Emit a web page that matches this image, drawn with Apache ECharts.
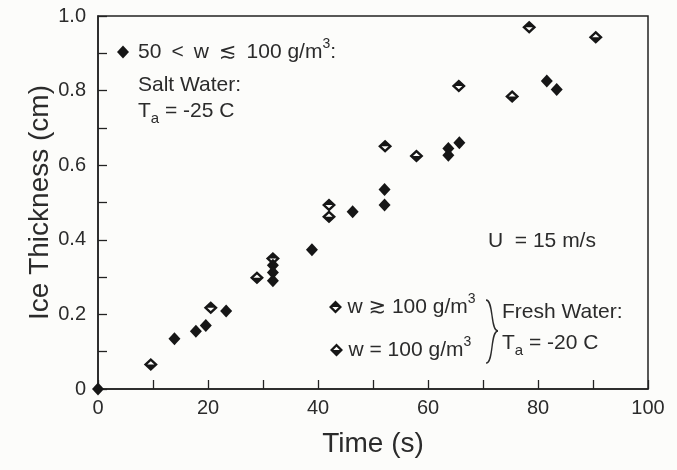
<!DOCTYPE html>
<html>
<head>
<meta charset="utf-8">
<script src="https://cdn.jsdelivr.net/npm/echarts@6/dist/echarts.min.js"></script>
<style>
html,body{margin:0;padding:0;background:#fcfcfa}
#chart{width:677px;height:470px}
</style>
</head>
<body>
<div id="chart"></div>
<script>
// tick labels
const xTickValues = [0, 20, 40, 60, 80, 100];
const xTickLabels = ['0', '20', '40', '60', '80', '100'];
const yTickValues = [0, 0.2, 0.4, 0.6, 0.8, 1.0];
const yTickLabels = ['0', '0.2', '0.4', '0.6', '0.8', '1.0'];

// salt water, 50 < w <= 100 g/m3 (filled diamonds)
const saltTime  = [0, 13.9, 17.8, 19.6, 23.3, 31.8, 31.8, 31.8, 38.9, 46.3, 52.1, 52.1, 63.7, 63.7, 65.7, 81.6, 83.4];
const saltThick = [0, 0.135, 0.155, 0.170, 0.209, 0.332, 0.312, 0.290, 0.373, 0.475, 0.535, 0.493, 0.645, 0.627, 0.660, 0.826, 0.803];

// fresh water, w >~ 100 g/m3
const highTime  = [20.5, 31.8, 42.0, 52.2, 65.6, 78.4];
const highThick = [0.218, 0.350, 0.493, 0.651, 0.812, 0.970];

// fresh water, w = 100 g/m3
const eqTime  = [9.6, 28.9, 42.0, 57.9, 75.3, 90.5];
const eqThick = [0.066, 0.298, 0.462, 0.625, 0.784, 0.943];

const zip = (xs, ys) => xs.map((x, i) => [x, ys[i]]);

const INK = '#161616';
const TXT = '#2b2b2b';
const FONT = '"Liberation Sans", "DejaVu Sans", sans-serif';

// open diamond with one half filled (ring + triangle, same winding as outer)
const OPEN_TOP = 'path://M10 0L20 10L10 20L0 10Z M10 5L5 10L10 15L15 10Z M0 10L10 0L20 10Z';
const OPEN_BOTTOM = 'path://M10 0L20 10L10 20L0 10Z M10 5L5 10L10 15L15 10Z M0 10L20 10L10 20Z';

const LEGEND_TEXT = {
    salt: '{t|50\u2009 <\u2009 w\u2009 ≲\u2009 100 g/m}{sup|3}{t|:}',
    high: '{t|w ≳ 100 g/m}{sup|3}',
    eq:   '{t|w = 100 g/m}{sup|3}'
};
const richText = {
    t:   {fontSize: 21, lineHeight: 30, color: TXT, fill: TXT, fontFamily: FONT, verticalAlign: 'middle'},
    sup: {fontSize: 14, lineHeight: 14, color: TXT, fill: TXT, fontFamily: FONT, verticalAlign: 'top'},
    sub: {fontSize: 15, lineHeight: 15, color: TXT, fill: TXT, fontFamily: FONT, verticalAlign: 'bottom'}
};

function legendAt(name, left, top, pad, w, h) {
    return {
        data: [name], left: left, top: top, padding: 0, orient: 'horizontal',
        itemWidth: w, itemHeight: h, selectedMode: false,
        formatter: n => LEGEND_TEXT[n],
        textStyle: {fontSize: 21, color: TXT, fontFamily: FONT, rich: richText, padding: [0, 0, 0, pad]}
    };
}

const myChart = echarts.init(document.getElementById('chart'));

myChart.setOption({
    backgroundColor: '#fcfcfa',
    animation: false,
    grid: {left: 98, top: 16, right: 29, bottom: 81, show: true, borderColor: '#222', borderWidth: 1.5, backgroundColor: 'transparent'},
    xAxis: {
        type: 'value', min: 0, max: 100, interval: 10,
        name: 'Time (s)', nameLocation: 'middle', nameGap: 41, nameMoveOverlap: false,
        nameTextStyle: {fontSize: 28, color: TXT, fontFamily: FONT},
        axisLine: {lineStyle: {color: '#222', width: 1.5}},
        axisTick: {inside: true, length: 9, lineStyle: {color: '#222', width: 1.3}},
        axisLabel: {
            fontSize: 20, color: TXT, fontFamily: FONT, margin: 9,
            formatter: v => { const i = xTickValues.indexOf(v); return i < 0 ? '' : xTickLabels[i]; }
        },
        splitLine: {show: false}
    },
    yAxis: {
        type: 'value', min: 0, max: 1.0, interval: 0.1,
        name: 'Ice Thickness (cm)', nameLocation: 'middle', nameGap: 44, nameMoveOverlap: false,
        nameTextStyle: {fontSize: 28, color: TXT, fontFamily: FONT},
        axisLine: {lineStyle: {color: '#222', width: 1.5}},
        axisTick: {inside: true, length: 9, lineStyle: {color: '#222', width: 1.3}},
        axisLabel: {
            fontSize: 20, color: TXT, fontFamily: FONT, margin: 12,
            formatter: v => { const i = yTickValues.findIndex(t => Math.abs(t - v) < 1e-6); return i < 0 ? '' : yTickLabels[i]; }
        },
        splitLine: {show: false}
    },
    legend: [
        legendAt('salt', 117, 37, 4, 12, 13),
        legendAt('high', 329, 292, 0, 14, 13),
        legendAt('eq', 330, 335, 0, 14, 13)
    ],
    graphic: [
        {type: 'text', x: 138, y: 85, style: {text: 'Salt Water:', fontSize: 21, fill: TXT, fontFamily: FONT, verticalAlign: 'middle'}},
        {type: 'text', x: 138, y: 111, style: {text: '{t|T}{sub|a}{t| = -25 C}', rich: richText, verticalAlign: 'middle'}},
        {type: 'text', x: 488, y: 241, style: {text: 'U  = 15 m/s', fontSize: 21, fill: TXT, fontFamily: FONT, verticalAlign: 'middle'}},
        {type: 'text', x: 502, y: 312, style: {text: 'Fresh Water:', fontSize: 21, fill: TXT, fontFamily: FONT, verticalAlign: 'middle'}},
        {type: 'text', x: 502, y: 343, style: {text: '{t|T}{sub|a}{t| = -20 C}', rich: richText, verticalAlign: 'middle'}},
        // brace
        {type: 'bezierCurve', shape: {x1: 486, y1: 300, cpx1: 494, cpy1: 300, cpx2: 490, cpy2: 331, x2: 498, y2: 331},
         style: {fill: null, stroke: TXT, lineWidth: 1.4}},
        {type: 'bezierCurve', shape: {x1: 498, y1: 331, cpx1: 490, cpy1: 331, cpx2: 494, cpy2: 363, x2: 486, y2: 363},
         style: {fill: null, stroke: TXT, lineWidth: 1.4}}
    ],
    series: [
        {name: 'salt', type: 'scatter', data: zip(saltTime, saltThick), symbol: 'diamond', symbolSize: [12, 13], itemStyle: {color: INK, opacity: 1}, z: 3},
        {name: 'high', type: 'scatter', data: zip(highTime, highThick), symbol: OPEN_TOP, symbolSize: [14, 13], itemStyle: {color: INK, opacity: 1}, z: 4},
        {name: 'eq', type: 'scatter', data: zip(eqTime, eqThick), symbol: OPEN_BOTTOM, symbolSize: [14, 13], itemStyle: {color: INK, opacity: 1}, z: 4}
    ]
});

window.addEventListener('resize', () => myChart.resize());
</script>
</body>
</html>
